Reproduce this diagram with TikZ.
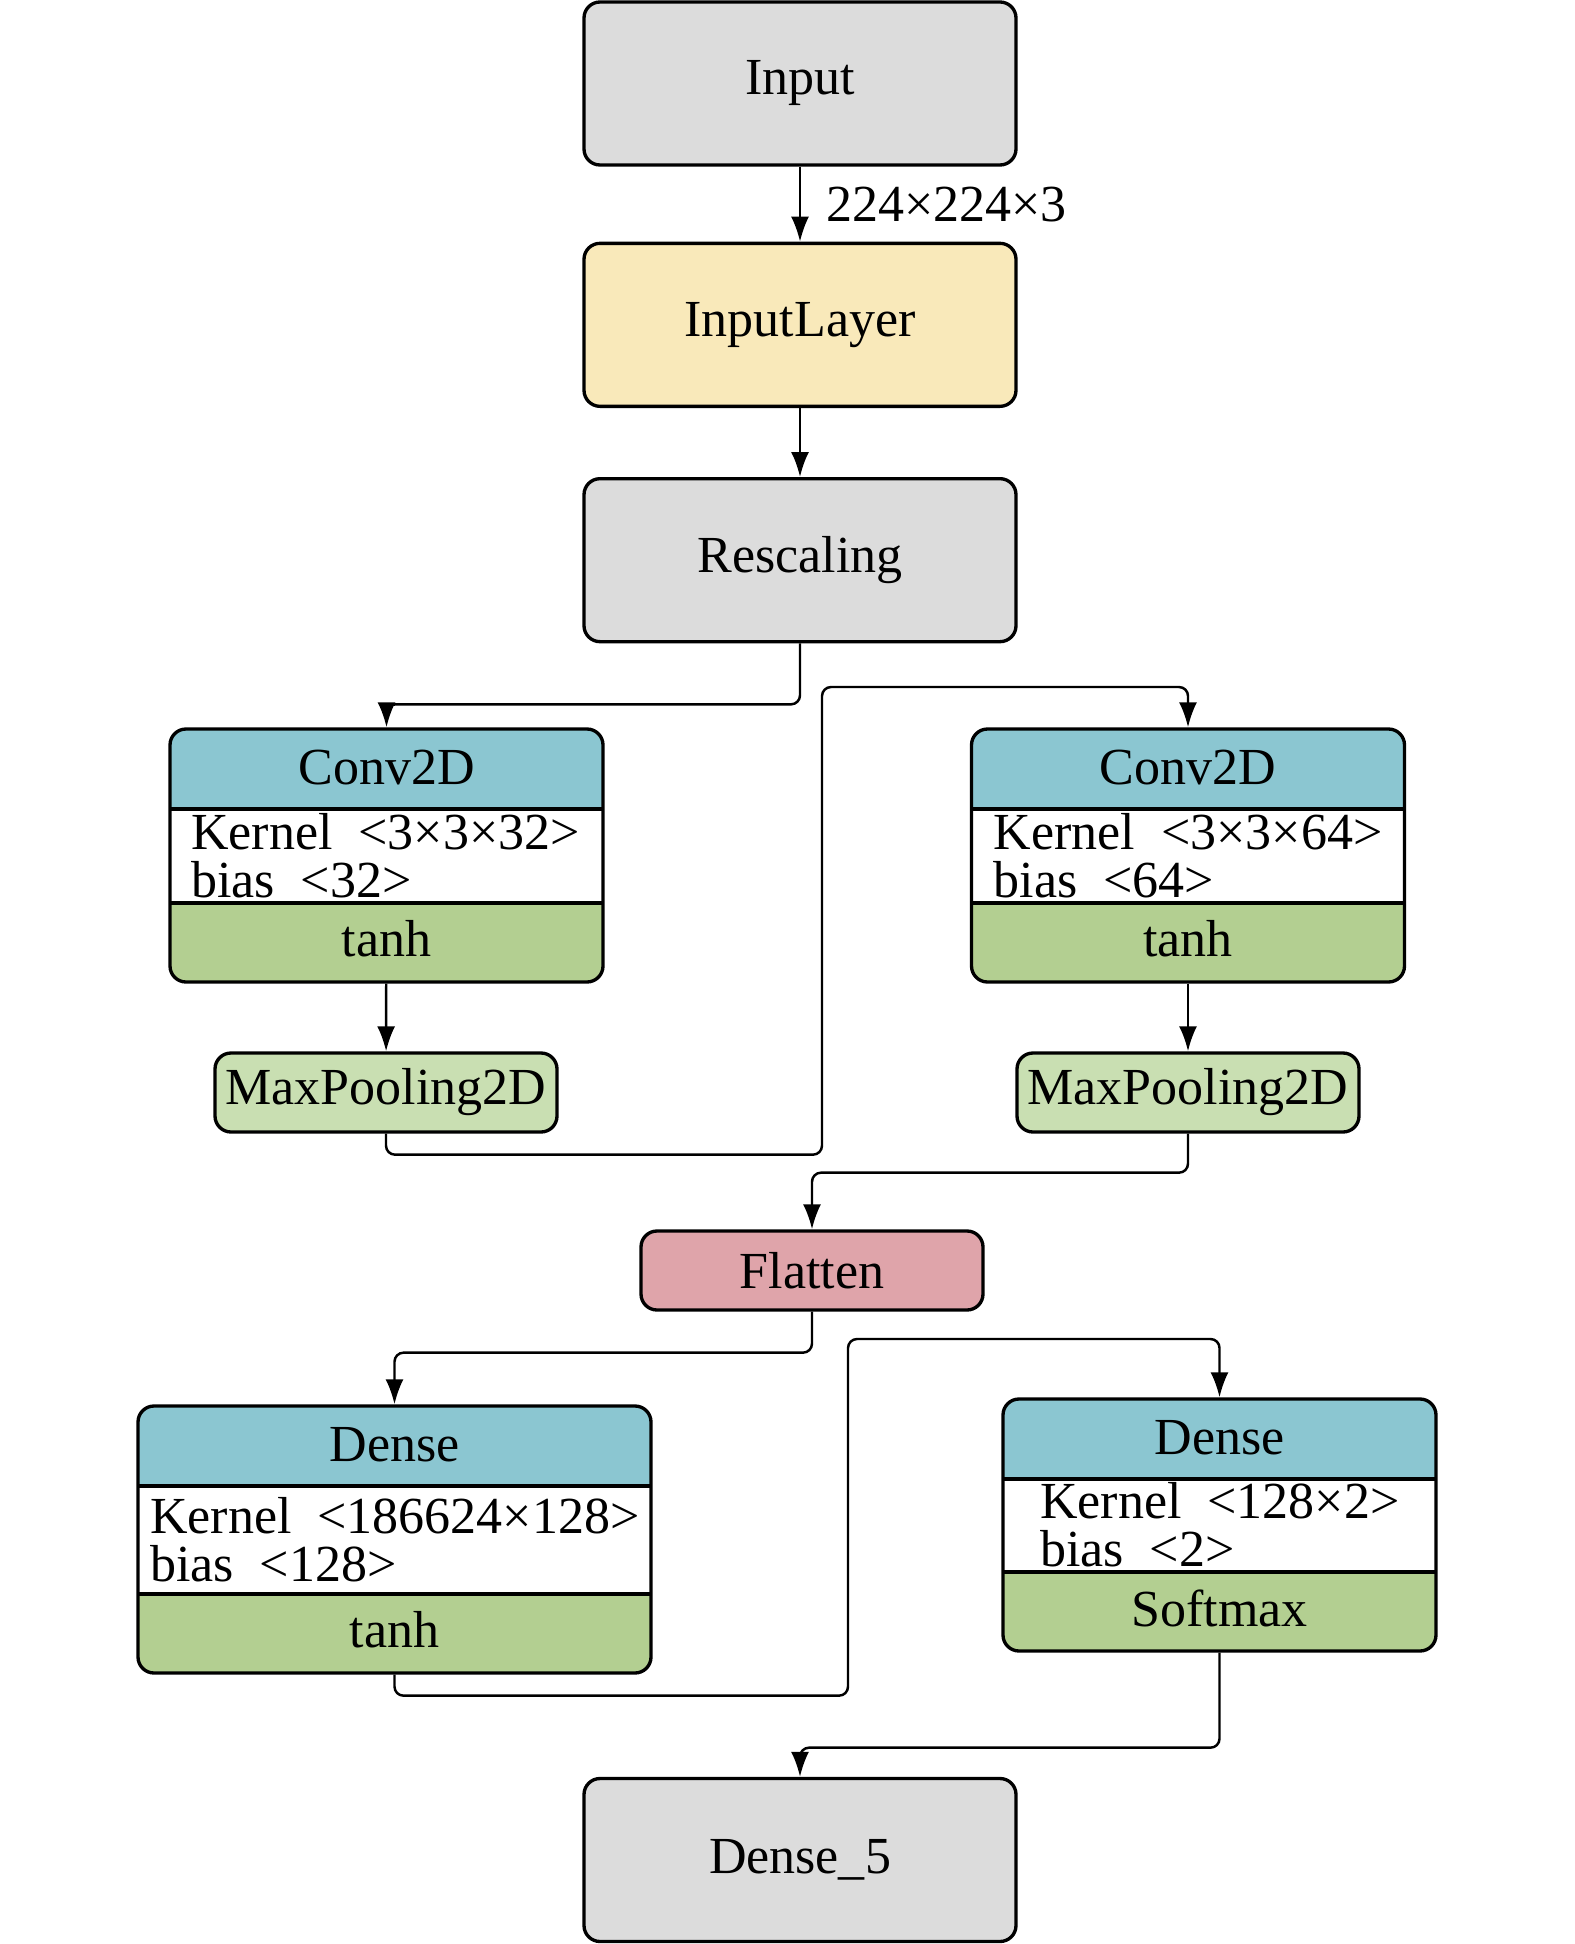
\documentclass[tikz,border=0pt]{standalone}
\usepackage{fontspec}
\setmainfont{Liberation Serif}
\usetikzlibrary{positioning, arrows.meta}

\definecolor{boxgrey}{HTML}{DCDCDC}
\definecolor{layeryellow}{HTML}{F9E9BA}
\definecolor{headteal}{HTML}{8BC6D1}
\definecolor{actgreen}{HTML}{B3CF91}
\definecolor{poolgreen}{HTML}{C9DFB2}
\definecolor{flatpink}{HTML}{DFA4AA}

\tikzset{
  layer/.style={draw, line width=0.95pt, rounded corners=1.6mm, font=\fontsize{14.8}{17}\selectfont},
  plain/.style={layer, minimum width=43.2mm, minimum height=16.3mm},
  pool/.style={layer, fill=poolgreen, minimum width=34.2mm, minimum height=7.9mm, inner sep=0pt},
  block/.style 2 args={layer, fill=white, minimum width=#1, minimum height=#2,
    path picture={
      \fill[headteal, sharp corners] (path picture bounding box.north west) rectangle ([yshift=-8mm]path picture bounding box.north east);
      \fill[actgreen, sharp corners] ([yshift=7.9mm]path picture bounding box.south west) rectangle (path picture bounding box.south east);
      \draw[line width=0.95pt, sharp corners] ([yshift=-8mm]path picture bounding box.north west) -- ([yshift=-8mm]path picture bounding box.north east);
      \draw[line width=0.95pt, sharp corners] ([yshift=7.9mm]path picture bounding box.south west) -- ([yshift=7.9mm]path picture bounding box.south east);
    }},
  txt/.style={inner sep=0pt, font=\fontsize{14.8}{17}\selectfont},
  body/.style={txt, anchor=west, align=left, font=\fontsize{14.8}{13.7}\selectfont},
  conn/.style={-{Latex[length=2.5mm, width=1.8mm]}, line width=0.7pt, rounded corners=0.9mm},
}

\begin{document}
\begin{tikzpicture}[x=0.1mm, y=-0.1mm]
    \useasboundingbox (0,0) rectangle (1575,1944);

    % main column
    \node[plain, fill=boxgrey] (inp) at (800,83.5) {Input};
    \node[plain, fill=layeryellow] (inl) [below=7.5mm of inp] {InputLayer};
    \node[plain, fill=boxgrey] (resc) [below=6.9mm of inl] {Rescaling};

    % conv blocks
    \node[block={43.3mm}{25.3mm}] (conva) at (386.5,855.5) {};
    \node[txt] (conva-h) at ([yshift=-4mm]conva.north) {Conv2D};
    \node[body] (conva-b) at ([xshift=2.2mm]conva.west) {Kernel~~<3×3×32>\\bias~~<32>};
    \node[txt] (conva-f) at ([yshift=4.5mm]conva.south) {tanh};

    \node[block={43.3mm}{25.3mm}] (convb) at (1188,855.5) {};
    \node[txt] (convb-h) at ([yshift=-4mm]convb.north) {Conv2D};
    \node[body] (convb-b) at ([xshift=2.3mm]convb.west) {Kernel~~<3×3×64>\\bias~~<64>};
    \node[txt] (convb-f) at ([yshift=4.5mm]convb.south) {tanh};

    \node[pool] (poola) at (386,1092.5) {MaxPooling2D};
    \node[pool] (poolb) at (1188,1092.5) {MaxPooling2D};
    \node[pool, fill=flatpink] (flat) at (812,1270.5) {Flatten};

    % dense blocks
    \node[block={51.3mm}{26.7mm}] (densea) at (394.5,1539.5) {};
    \node[txt] (densea-h) at ([yshift=-4mm]densea.north) {Dense};
    \node[body] (densea-b) at ([xshift=1.3mm]densea.west) {Kernel~~<186624×128>\\bias~~<128>};
    \node[txt] (densea-f) at ([yshift=4.5mm]densea.south) {tanh};

    \node[block={43.3mm}{25.2mm}] (denseb) at (1219.5,1525) {};
    \node[txt] (denseb-h) at ([yshift=-4mm]denseb.north) {Dense};
    \node[body] (denseb-b) at ([xshift=3.8mm]denseb.west) {Kernel~~<128×2>\\bias~~<2>};
    \node[txt] (denseb-f) at ([yshift=4.4mm]denseb.south) {Softmax};

    \node[plain, fill=boxgrey] (out) at (800,1860) {Dense\_5};

    \draw[conn] (inp) -- node[txt, right=2.5mm] {224×224×3} (inl);
    \draw[conn] (inl) -- (resc);
    \draw[conn] (resc.south) -- ++(0,61) -| (conva.north);
    \draw[conn] (conva) -- (poola);
    \draw[conn] (poola.south) -- ++(0,21) -| (822,687) -| (convb.north);
    \draw[conn] (convb) -- (poolb);
    \draw[conn] (poolb.south) -- ++(0,39) -| (flat.north);
    \draw[conn] (flat.south) -- ++(0,41) -| (densea.north);
    \draw[conn] (densea.south) -- ++(0,21) -| (848,1339) -| (denseb.north);
    \draw[conn] (denseb.south) -- ++(0,95) -| (out.north);
\end{tikzpicture}
\end{document}
